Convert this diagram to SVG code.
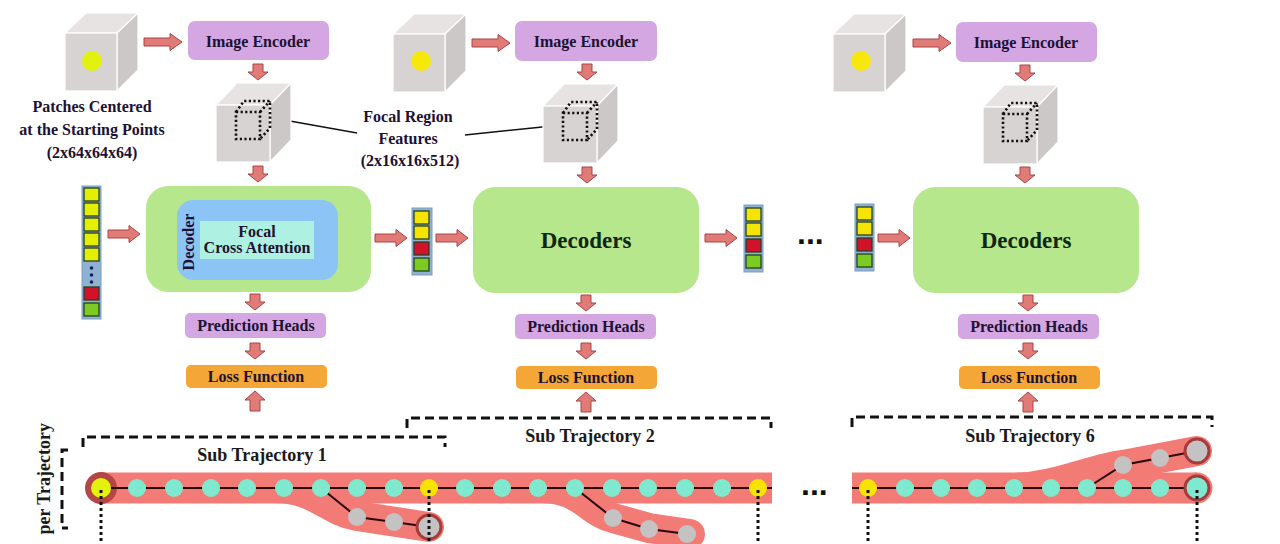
<svg xmlns="http://www.w3.org/2000/svg" xmlns:xlink="http://www.w3.org/1999/xlink" width="1280" height="544" viewBox="0 0 1280 544">
<style>
text{font-family:"Liberation Serif","Times New Roman",serif;font-weight:bold;fill:#1c1233}
.t16{font-size:16px;text-anchor:middle}
.dec{font-size:23px;text-anchor:middle;fill:#0f260f}
.sub{font-size:18px;text-anchor:middle;fill:#1a1a1a}
.enc{fill:#d4a6e2}
.loss{fill:#f4a636}
.green{fill:#b6e78d}
.arr{fill:#e07b78;stroke:#a84444;stroke-width:1}
.cf{fill:#d8d3d3;stroke:#fff;stroke-width:1.2}
.ct{fill:#e7e3e3;stroke:#fff;stroke-width:1.2}
.cr{fill:#cdc8c8;stroke:#fff;stroke-width:1.2}
.dotc{fill:none;stroke:#111;stroke-width:2.6;stroke-dasharray:2.2 2.4}
.col{fill:#8fb1d3;stroke:#7d9dbd;stroke-width:1}
.sq{stroke:#27401f;stroke-width:1.3}
.yg{fill:#e3f100}.ye{fill:#f6e400}.rd{fill:#d0122a}.gr{fill:#7ccb22}
.band{fill:none;stroke:#f37b76}
.trk{fill:none;stroke:#2a0808;stroke-width:2}
.cy{fill:#7fe9d0}.gy{fill:#c4c2c2}
.ring{stroke:#a53b3b;stroke-width:3}
.vdot{stroke:#111;stroke-width:3;stroke-dasharray:3 3}
.brk{fill:none;stroke:#111;stroke-width:3;stroke-dasharray:9 5}
</style>
<defs>
<path id="ha" class="arr" d="M0,-4 H26 V-8.5 L38,0 L26,8.5 V4 H0 Z"/>
<path id="ha2" class="arr" d="M0,-4 H21 V-8.5 L32,0 L21,8.5 V4 H0 Z"/>
<path id="da" class="arr" d="M-5,0 H5 V8 H10 L0,16 L-10,8 H-5 Z"/>
<path id="ua" class="arr" d="M-5,20 H5 V9 H10 L0,0 L-10,9 H-5 Z"/>
<g id="icube">
<path class="ct" d="M0,0 L21,-20 H73 L52,0 Z"/>
<path class="cr" d="M52,0 L73,-20 V37 L52,58 Z"/>
<rect class="cf" x="0" y="0" width="52" height="58"/>
</g>
<g id="fcube">
<path class="ct" d="M0,0 L21,-22 H75 L54,0 Z"/>
<path class="cr" d="M54,0 L75,-22 V35 L54,57 Z"/>
<rect class="cf" x="0" y="0" width="54" height="57"/>
<rect class="dotc" x="20" y="7" width="24" height="27"/>
<path class="dotc" d="M20,7 L28,-4 H54 V23 L44,34 M44,7 L54,-4"/>
</g>
</defs>

<g id="connectors">
<use xlink:href="#ha" x="144" y="42"/>
<use xlink:href="#ha" x="472" y="43"/>
<use xlink:href="#ha" x="913" y="43"/>
<use xlink:href="#da" x="258" y="64"/>
<use xlink:href="#da" x="587" y="64"/>
<use xlink:href="#da" x="1025" y="65"/>
<use xlink:href="#da" x="258" y="166"/>
<use xlink:href="#da" x="587" y="167"/>
<use xlink:href="#da" x="1025" y="167"/>
<use xlink:href="#ha2" x="108" y="234"/>
<use xlink:href="#ha2" x="375" y="238"/>
<use xlink:href="#ha2" x="436" y="238"/>
<use xlink:href="#ha2" x="705" y="238"/>
<use xlink:href="#ha2" x="878" y="238"/>
<use xlink:href="#da" x="255" y="294"/>
<use xlink:href="#da" x="586" y="295"/>
<use xlink:href="#da" x="1028" y="295"/>
<use xlink:href="#da" x="255" y="343"/>
<use xlink:href="#da" x="586" y="343"/>
<use xlink:href="#da" x="1028" y="343"/>
<use xlink:href="#ua" x="255" y="391"/>
<use xlink:href="#ua" x="586" y="392"/>
<use xlink:href="#ua" x="1028" y="392"/>
<line x1="273" y1="118" x2="357" y2="133" stroke="#111" stroke-width="1.5"/>
<line x1="465" y1="135" x2="562" y2="125" stroke="#111" stroke-width="1.5"/>
</g>

<g id="patch1"><use xlink:href="#icube" x="65" y="33"/><circle cx="92" cy="61" r="10" fill="#e3f20c"/></g>
<g id="patch2"><use xlink:href="#icube" x="393" y="34"/><circle cx="421" cy="61" r="10" fill="#f7e80a"/></g>
<g id="patch3"><use xlink:href="#icube" x="833" y="34"/><circle cx="861" cy="61" r="10" fill="#f7e80a"/></g>

<g id="patch-label">
<text class="t16" x="92" y="112">Patches Centered</text>
<text class="t16" x="92" y="135">at the Starting Points</text>
<text class="t16" x="92" y="158">(2x64x64x64)</text>
</g>

<g id="enc1"><rect class="enc" x="188" y="21" width="141" height="39" rx="7"/><text class="t16" x="258" y="47">Image Encoder</text></g>
<g id="enc2"><rect class="enc" x="515" y="21" width="142" height="40" rx="7"/><text class="t16" x="586" y="47">Image Encoder</text></g>
<g id="enc3"><rect class="enc" x="956" y="22" width="141" height="40" rx="7"/><text class="t16" x="1026" y="48">Image Encoder</text></g>

<g id="feat1"><use xlink:href="#fcube" x="216" y="105"/></g>
<g id="feat2"><use xlink:href="#fcube" x="543" y="106"/></g>
<g id="feat3"><use xlink:href="#fcube" x="983" y="107"/></g>

<g id="feat-label">
<text class="t16" x="408" y="122">Focal Region</text>
<text class="t16" x="408" y="144">Features</text>
<text class="t16" x="410" y="166">(2x16x16x512)</text>
</g>

<g id="decoder1">
<rect class="green" x="146" y="186" width="225" height="106" rx="22"/>
<rect x="177" y="200" width="161" height="80" rx="16" fill="#8dc4f6"/>
<text class="t16" transform="translate(194,242) rotate(-90)" fill="#10204a">Decoder</text>
<rect x="200" y="221" width="114" height="38" fill="#aef1e3"/>
<text class="t16" x="257" y="237">Focal</text>
<text class="t16" x="257" y="253">Cross Attention</text>
</g>
<g id="decoder2"><rect class="green" x="473" y="187" width="226" height="106" rx="22"/><text class="dec" x="586" y="248">Decoders</text></g>
<g id="decoder3"><rect class="green" x="913" y="187" width="226" height="106" rx="22"/><text class="dec" x="1026" y="248">Decoders</text></g>

<g id="tokens1">
<rect class="col" x="82" y="186" width="19" height="133"/>
<rect class="sq yg" x="84" y="188" width="15" height="13"/>
<rect class="sq yg" x="84" y="203" width="15" height="13"/>
<rect class="sq yg" x="84" y="218" width="15" height="13"/>
<rect class="sq yg" x="84" y="233" width="15" height="13"/>
<rect class="sq yg" x="84" y="248" width="15" height="13"/>
<circle cx="91.5" cy="268" r="1.8" fill="#15225a"/>
<circle cx="91.5" cy="275" r="1.8" fill="#15225a"/>
<circle cx="91.5" cy="282" r="1.8" fill="#15225a"/>
<rect class="sq rd" x="84" y="287" width="15" height="13"/>
<rect class="sq gr" x="84" y="303" width="15" height="13"/>
</g>
<g id="tokens2">
<rect class="col" x="412" y="208" width="20" height="67"/>
<rect class="sq ye" x="414" y="211" width="15" height="13"/>
<rect class="sq ye" x="414" y="226" width="15" height="13"/>
<rect class="sq rd" x="414" y="242" width="15" height="13"/>
<rect class="sq gr" x="414" y="258" width="15" height="13"/>
</g>
<g id="tokens3">
<rect class="col" x="744" y="205" width="19" height="67"/>
<rect class="sq ye" x="746" y="208" width="15" height="13"/>
<rect class="sq ye" x="746" y="223" width="15" height="13"/>
<rect class="sq rd" x="746" y="239" width="15" height="13"/>
<rect class="sq gr" x="746" y="255" width="15" height="13"/>
</g>
<text x="797" y="244" style="font-family:'Liberation Sans',Arial,sans-serif;font-size:32px;fill:#111">...</text>
<g id="tokens4">
<rect class="col" x="855" y="204" width="19" height="67"/>
<rect class="sq ye" x="857" y="207" width="15" height="13"/>
<rect class="sq ye" x="857" y="222" width="15" height="13"/>
<rect class="sq rd" x="857" y="238" width="15" height="13"/>
<rect class="sq gr" x="857" y="254" width="15" height="13"/>
</g>

<g id="pred1"><rect class="enc" x="185" y="313" width="141" height="25" rx="5"/><text class="t16" x="256" y="331">Prediction Heads</text></g>
<g id="pred2"><rect class="enc" x="515" y="314" width="141" height="25" rx="5"/><text class="t16" x="586" y="332">Prediction Heads</text></g>
<g id="pred3"><rect class="enc" x="958" y="314" width="141" height="25" rx="5"/><text class="t16" x="1029" y="332">Prediction Heads</text></g>

<g id="loss1"><rect class="loss" x="186" y="365" width="141" height="23" rx="5"/><text class="t16" x="256" y="382">Loss Function</text></g>
<g id="loss2"><rect class="loss" x="516" y="366" width="141" height="23" rx="5"/><text class="t16" x="586" y="383">Loss Function</text></g>
<g id="loss3"><rect class="loss" x="959" y="366" width="141" height="23" rx="5"/><text class="t16" x="1029" y="383">Loss Function</text></g>

<g id="brackets">
<path class="brk" d="M83,447 V437 H445 V447"/>
<path class="brk" d="M407,428 V418 H771 V428"/>
<path class="brk" d="M852,427 V417 H1212 V427"/>
<path class="brk" d="M68,450 H62 V528 H68"/>
<text class="sub" x="262" y="461">Sub Trajectory 1</text>
<text class="sub" x="590" y="442">Sub Trajectory 2</text>
<text class="sub" x="1030" y="442">Sub Trajectory 6</text>
<text transform="translate(50,423) rotate(-90)" style="font-size:18px;text-anchor:end;fill:#1a1a1a">per Trajectory</text>
</g>

<g id="trajectory">
<path class="band" stroke-width="31" d="M101,488 H772"/>
<path class="band" stroke-width="30" stroke-linecap="round" d="M275,488 C315,488 328,511 357,516 L429,527"/>
<path class="band" stroke-width="30" stroke-linecap="round" d="M540,488 C582,488 588,512 613,518 L649,528 L690,534"/>
<path class="band" stroke-width="31" d="M852,488 H1197"/>
<circle cx="1197" cy="488" r="15.5" fill="#f37b76"/>
<path class="band" stroke-width="30" stroke-linecap="round" d="M1010,488 C1055,488 1090,469 1123,465 L1160,458 L1197,451"/>
<circle cx="101" cy="488" r="16" fill="#b44646"/>
<path class="trk" d="M101,488 H772 M321,488 L357,517 L394,522 L429,527 M575,488 L613,518 L649,529 L687,534 M852,488 H1197 M1087,488 L1123,465 L1160,458 L1197,451"/>
<circle cx="101" cy="488" r="10" fill="#e3f20c"/>
<g class="cy">
<circle cx="137" cy="488" r="9"/><circle cx="174" cy="488" r="9"/><circle cx="211" cy="488" r="9"/><circle cx="247" cy="488" r="9"/><circle cx="284" cy="488" r="9"/><circle cx="321" cy="488" r="9"/><circle cx="357" cy="488" r="9"/><circle cx="394" cy="488" r="9"/>
<circle cx="465" cy="488" r="9"/><circle cx="502" cy="488" r="9"/><circle cx="538" cy="488" r="9"/><circle cx="575" cy="488" r="9"/><circle cx="612" cy="488" r="9"/><circle cx="648" cy="488" r="9"/><circle cx="685" cy="488" r="9"/><circle cx="722" cy="488" r="9"/>
<circle cx="905" cy="488" r="9"/><circle cx="941" cy="488" r="9"/><circle cx="977" cy="488" r="9"/><circle cx="1014" cy="488" r="9"/><circle cx="1051" cy="488" r="9"/><circle cx="1087" cy="488" r="9"/><circle cx="1123" cy="488" r="9"/><circle cx="1160" cy="488" r="9"/>
<circle class="ring" cx="1197" cy="488" r="12"/>
</g>
<g class="gy">
<circle cx="357" cy="517" r="9"/><circle cx="394" cy="522" r="9"/><circle class="ring" cx="429" cy="527" r="12"/>
<circle cx="613" cy="518" r="9"/><circle cx="649" cy="529" r="9"/><circle cx="687" cy="534" r="9"/>
<circle cx="1123" cy="465" r="9"/><circle cx="1160" cy="458" r="9"/><circle class="ring" cx="1197" cy="451" r="12"/>
</g>
<g class="ye">
<circle cx="429" cy="488" r="9"/><circle cx="758" cy="488" r="9"/><circle cx="868" cy="488" r="9"/>
</g>
<path class="vdot" d="M101,490 V544 M429,490 V544 M758,490 V544 M868,490 V544 M1197,490 V544"/>
<text x="801" y="495" style="font-family:'Liberation Sans',Arial,sans-serif;font-size:32px;fill:#111">...</text>
</g>
</svg>
